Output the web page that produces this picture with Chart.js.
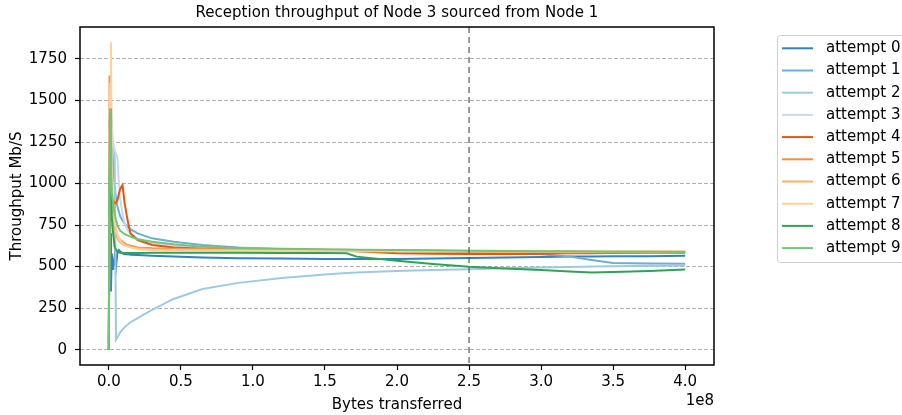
<!DOCTYPE html>
<html>
<head>
    <title>Reception throughput</title>
    <script src="https://cdn.jsdelivr.net/npm/chart.js"></script>
    <style>
        body { margin: 0; background: #fff; }
    </style>
</head>
<body>
    <canvas id="myChart" width="902" height="415"></canvas>

    <script>
        // bytes transferred, in units of 1e8
        const bytesX = [0, 0.005, 0.01, 0.015, 0.02, 0.03, 0.04, 0.05, 0.06, 0.07, 0.08, 0.095, 0.11, 0.13, 0.15, 0.2, 0.3, 0.45, 0.65, 0.9, 1.2, 1.5, 1.65, 1.72, 2.0, 2.25, 2.5, 2.75, 3.0, 3.2, 3.35, 3.5, 3.75, 4.0];

        // throughput in Mb/S, one array per attempt
        const attempt0 = [0, 1400, 700, 350, 580, 480, 560, 500, 590, 600, 590, 580, 575, 575, 572, 570, 565, 560, 555, 550, 548, 546, 545, 545, 545, 548, 552, 555, 558, 560, 560, 562, 563, 565];
        const attempt1 = [0, 1200, 1650, 1500, 1300, 1100, 1000, 900, 860, 830, 800, 780, 760, 740, 725, 700, 670, 650, 630, 615, 605, 598, 595, 594, 592, 590, 585, 580, 575, 560, 540, 522, 518, 517];
        const attempt2 = [0, 1100, 1450, 1300, 1250, 1220, 1200, 60, 75, 90, 105, 120, 135, 150, 165, 190, 240, 305, 365, 402, 432, 452, 462, 465, 473, 479, 484, 490, 495, 498, 500, 502, 505, 507];
        const attempt3 = [0, 900, 1300, 1400, 1350, 1250, 1200, 1180, 1150, 1000, 900, 820, 760, 720, 700, 670, 640, 625, 615, 610, 605, 600, 598, 598, 597, 596, 595, 595, 594, 594, 593, 593, 592, 592];
        const attempt4 = [0, 1050, 1000, 950, 920, 900, 880, 885, 900, 940, 970, 990, 880, 780, 700, 660, 630, 615, 608, 603, 600, 597, 595, 593, 580, 577, 576, 576, 578, 580, 581, 582, 583, 584];
        const attempt5 = [0, 1650, 1200, 1000, 900, 820, 760, 720, 690, 670, 660, 650, 640, 630, 625, 615, 610, 608, 606, 605, 603, 600, 598, 597, 596, 595, 594, 593, 592, 591, 590, 590, 589, 589];
        const attempt6 = [0, 1300, 1100, 950, 850, 780, 720, 690, 670, 655, 645, 635, 628, 622, 618, 610, 605, 602, 600, 598, 596, 594, 593, 592, 591, 590, 589, 588, 588, 587, 587, 586, 586, 586];
        const attempt7 = [0, 1400, 1600, 1850, 1100, 900, 780, 720, 690, 670, 655, 640, 630, 622, 615, 605, 600, 598, 597, 596, 596, 595, 595, 595, 594, 594, 594, 593, 593, 593, 592, 592, 592, 592];
        const attempt8 = [0, 1000, 1450, 1050, 800, 700, 620, 600, 590, 585, 583, 582, 582, 582, 582, 582, 583, 584, 584, 583, 582, 582, 580, 560, 535, 515, 499, 488, 479, 470, 465, 467, 474, 483];
        const attempt9 = [0, 1000, 1450, 1100, 950, 880, 820, 780, 750, 730, 715, 705, 695, 688, 680, 665, 650, 635, 620, 612, 608, 605, 603, 602, 600, 598, 596, 594, 593, 592, 591, 590, 589, 588];

        const attempts = [attempt0, attempt1, attempt2, attempt3, attempt4, attempt5, attempt6, attempt7, attempt8, attempt9];
        const attemptLabels = ['attempt 0', 'attempt 1', 'attempt 2', 'attempt 3', 'attempt 4', 'attempt 5', 'attempt 6', 'attempt 7', 'attempt 8', 'attempt 9'];
        const colors = ['#3182bd', '#6baed6', '#9ecae1', '#c6dbef', '#e6550d', '#fd8d3c', '#fdae6b', '#fdd0a2', '#31a354', '#74c476'];

        const yTicks = [0, 250, 500, 750, 1000, 1250, 1500, 1750];
        const xTicks = [0, 0.5, 1.0, 1.5, 2.0, 2.5, 3.0, 3.5, 4.0];
        const markerX = 2.5;

        const FONT = 'DejaVu Sans';
        const FS = 15;

        const extras = {
            id: 'extras',
            afterDatasetsDraw(chart) {
                const ctx = chart.ctx;
                const a = chart.chartArea;
                const xs = chart.scales.x;
                // vertical dashed marker
                const px = xs.getPixelForValue(markerX);
                ctx.save();
                ctx.beginPath();
                ctx.rect(a.left, a.top, a.right - a.left, a.bottom - a.top);
                ctx.clip();
                ctx.strokeStyle = '#555';
                ctx.lineWidth = 1.2;
                ctx.setLineDash([6, 4]);
                ctx.beginPath();
                ctx.moveTo(px, a.top);
                ctx.lineTo(px, a.bottom);
                ctx.stroke();
                ctx.restore();
            },
            afterDraw(chart) {
                const ctx = chart.ctx;
                const a = chart.chartArea;
                ctx.save();
                // axes frame
                ctx.strokeStyle = '#000';
                ctx.lineWidth = 1.5;
                ctx.strokeRect(a.left, a.top, a.right - a.left, a.bottom - a.top);

                // title
                ctx.fillStyle = '#000';
                ctx.font = FS + 'px ' + FONT;
                ctx.textAlign = 'center';
                ctx.textBaseline = 'middle';
                ctx.fillText('Reception throughput of Node 3 sourced from Node 1', (a.left + a.right) / 2, 13);

                // offset text
                ctx.textAlign = 'right';
                ctx.fillText('1e8', a.right, 401);

                // legend
                const lx = 777, ly = 35, lw = 140, lh = 227;
                ctx.strokeStyle = '#d0d0d0';
                ctx.lineWidth = 1;
                ctx.beginPath();
                ctx.roundRect(lx + 0.5, ly + 0.5, lw, lh, 3);
                ctx.stroke();
                ctx.textAlign = 'left';
                attemptLabels.forEach((label, i) => {
                    const y = 48.3 + i * 22.2;
                    ctx.strokeStyle = colors[i];
                    ctx.lineWidth = 2;
                    ctx.beginPath();
                    ctx.moveTo(782, y);
                    ctx.lineTo(813, y);
                    ctx.stroke();
                    ctx.fillStyle = '#000';
                    ctx.fillText(label, 826, y);
                });
                ctx.restore();
            }
        };

        const ctx = document.getElementById('myChart').getContext('2d');
        const chart = new Chart(ctx, {
            type: 'line',
            data: {
                datasets: attempts.map((vals, i) => ({
                    label: attemptLabels[i],
                    data: vals.map((v, j) => ({ x: bytesX[j], y: v })),
                    borderColor: colors[i],
                    backgroundColor: colors[i],
                    borderWidth: 2,
                    pointRadius: 0,
                    tension: 0,
                    fill: false,
                    order: 9 - i
                }))
            },
            plugins: [extras],
            options: {
                responsive: false,
                animation: false,
                layout: { padding: { left: 0, top: 27, right: 188, bottom: 0 } },
                plugins: {
                    legend: { display: false },
                    title: { display: false },
                    tooltip: { enabled: false }
                },
                scales: {
                    x: {
                        type: 'linear',
                        min: -0.2,
                        max: 4.2,
                        afterFit: s => { s.height = 50; },
                        afterBuildTicks: s => { s.ticks = xTicks.map(v => ({ value: v })); },
                        ticks: {
                            color: '#000',
                            font: { family: FONT, size: FS },
                            padding: 3,
                            maxRotation: 0,
                            callback: v => v.toFixed(1)
                        },
                        grid: {
                            drawOnChartArea: false,
                            tickColor: '#000',
                            tickLength: 5,
                            tickWidth: 1.2
                        },
                        border: { display: false },
                        title: {
                            display: true,
                            text: 'Bytes transferred',
                            color: '#000',
                            font: { family: FONT, size: FS },
                            padding: { top: 0, bottom: 1 }
                        }
                    },
                    y: {
                        type: 'linear',
                        min: -92.5,
                        max: 1942.5,
                        afterFit: s => { s.width = 80; },
                        afterBuildTicks: s => { s.ticks = yTicks.map(v => ({ value: v })); },
                        ticks: {
                            color: '#000',
                            font: { family: FONT, size: FS },
                            padding: 8,
                            callback: v => String(v)
                        },
                        grid: {
                            color: '#b0b0b0',
                            lineWidth: 1,
                            tickColor: '#000',
                            tickLength: 5,
                            tickWidth: 1.2
                        },
                        border: { display: false, dash: [4, 2] },
                        title: {
                            display: true,
                            text: 'Throughput Mb/S',
                            color: '#000',
                            font: { family: FONT, size: FS },
                            padding: { top: 8, bottom: 0 }
                        }
                    }
                }
            }
        });
    </script>
</body>
</html>
